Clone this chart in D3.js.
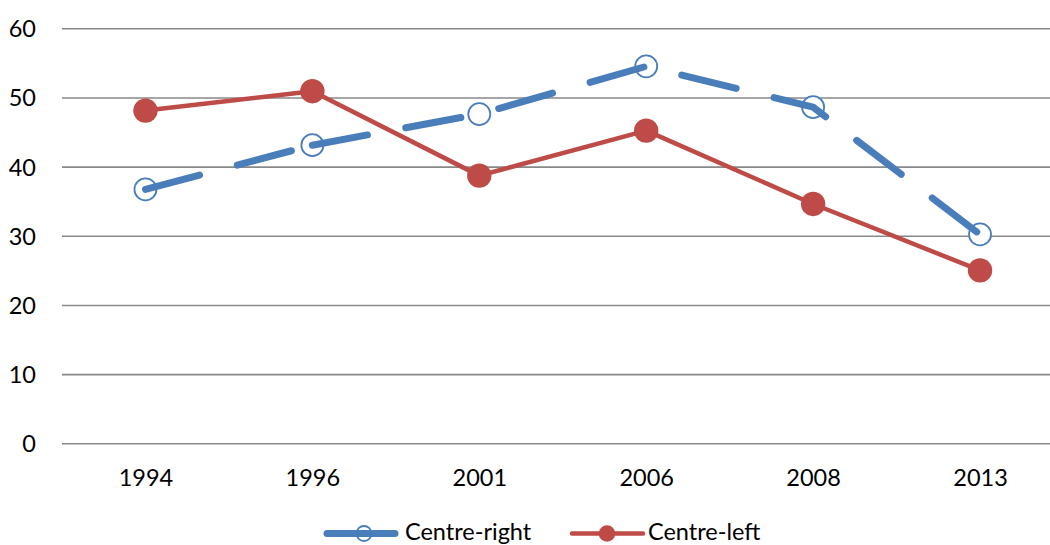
<!DOCTYPE html>
<html>
<head>
<meta charset="utf-8">
<script src="https://cdn.jsdelivr.net/npm/d3@7"></script>
<style>
  html, body { margin: 0; padding: 0; background: #fff; }
  svg { display: block; }
  text { font-family: Lato, "Open Sans", sans-serif; fill: #000; }
</style>
</head>
<body>
<svg id="chart" width="1050" height="545"></svg>
<script>
const years = ["1994", "1996", "2001", "2006", "2008", "2013"];
const centreRight = [36.7, 43.1, 47.6, 54.5, 48.6, 30.2];
const centreLeft = [48.1, 50.9, 38.7, 45.2, 34.6, 25.0];
const yTicks = [0, 10, 20, 30, 40, 50, 60];
const seriesNames = ["Centre-right", "Centre-left"];

(function () {
const blue = "#4A7EBB";
const red = "#BE4B48";
const fontSize = 23.5;

const svg = d3.select("#chart");
const pLeft = 62, pRight = 1063.5, pTop = 28.3, pBottom = 443.3;

const x = d3.scalePoint().domain(years).range([pLeft, pRight]).padding(0.5);
const y = d3.scaleLinear().domain([0, 60]).range([pBottom, pTop]);

// grid + y axis
const yAxis = svg.append("g")
  .attr("transform", `translate(${pLeft},0)`)
  .call(d3.axisLeft(y).tickValues(yTicks).tickSize(-(pRight - pLeft)).tickPadding(26).tickFormat(d3.format("d")));
yAxis.select(".domain").remove();
yAxis.selectAll(".tick line").attr("stroke", "#888").attr("stroke-width", 1.6);
yAxis.selectAll(".tick text").attr("font-size", fontSize).attr("font-family", "Lato").attr("dy", "0.36em");

// x axis labels
const xAxis = svg.append("g")
  .attr("transform", `translate(0,${pBottom})`)
  .call(d3.axisBottom(x).tickSize(0).tickPadding(0));
xAxis.select(".domain").remove();
xAxis.selectAll(".tick text").attr("font-size", fontSize).attr("font-family", "Lato").attr("y", 42.8).attr("dy", 0);

const crData = years.map((yr, i) => ({ yr, v: centreRight[i] }));
const clData = years.map((yr, i) => ({ yr, v: centreLeft[i] }));
const line = d3.line().x(d => x(d.yr)).y(d => y(d.v));

// Centre-left: solid line with filled markers
svg.append("path")
  .datum(clData)
  .attr("d", line)
  .attr("fill", "none")
  .attr("stroke", red)
  .attr("stroke-width", 4.5)
  .attr("stroke-linejoin", "round");
svg.append("g").selectAll("circle")
  .data(clData).join("circle")
  .attr("cx", d => x(d.yr)).attr("cy", d => y(d.v))
  .attr("r", 12.2)
  .attr("fill", red);

// Centre-right: hollow markers beneath thick dashed line
svg.append("g").selectAll("circle")
  .data(crData).join("circle")
  .attr("cx", d => x(d.yr)).attr("cy", d => y(d.v))
  .attr("r", 11)
  .attr("fill", "#fff")
  .attr("stroke", blue)
  .attr("stroke-width", 1.8);
[crData.slice(0, 2), crData.slice(1)].forEach(seg => {
  svg.append("path")
    .datum(seg)
    .attr("d", line)
    .attr("fill", "none")
    .attr("stroke", blue)
    .attr("stroke-width", 7)
    .attr("stroke-linecap", "round")
    .attr("stroke-linejoin", "round")
    .attr("stroke-dasharray", "56 39");
});

// legend
const legY = 533.5;
const lg = svg.append("g");
const items = [
  { name: seriesNames[0], x0: 327, x1: 395, cx: 364, tx: 405, color: blue, w: 7, r: 7.5, hollow: true },
  { name: seriesNames[1], x0: 572, x1: 643, cx: 607, tx: 648, color: red, w: 4.5, r: 8.3, hollow: false }
];
items.forEach(it => {
  lg.append("line")
    .attr("x1", it.x0).attr("x2", it.x1).attr("y1", legY).attr("y2", legY)
    .attr("stroke", it.color).attr("stroke-width", it.w).attr("stroke-linecap", "round");
  lg.append("circle")
    .attr("cx", it.cx).attr("cy", legY).attr("r", it.r)
    .attr("fill", it.hollow ? "none" : it.color)
    .attr("stroke", it.hollow ? it.color : "none")
    .attr("stroke-width", 1.8);
  lg.append("text")
    .attr("x", it.tx).attr("y", legY + 6)
    .attr("font-size", fontSize)
    .text(it.name);
});
})();
</script>
</body>
</html>
